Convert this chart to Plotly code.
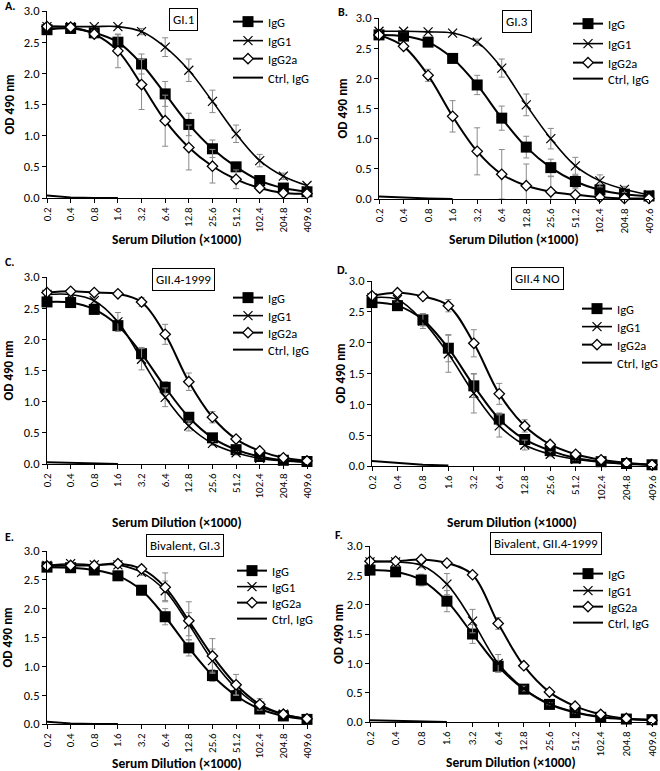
import plotly.graph_objects as go

dilutions = ["0.2", "0.4", "0.8", "1.6", "3.2", "6.4", "12.8", "25.6", "51.2", "102.4", "204.8", "409.6"]
series_names = ["IgG", "IgG1", "IgG2a", "Ctrl, IgG"]
panel_letters = ["A.", "B.", "C.", "D.", "E.", "F."]
panel_titles = ["GI.1", "GI.3", "GII.4-1999", "GII.4 NO", "Bivalent, GI.3", "Bivalent, GII.4-1999"]

# Panel A - GI.1
a_igg = [2.70, 2.72, 2.65, 2.50, 2.15, 1.67, 1.18, 0.79, 0.50, 0.28, 0.16, 0.10]
a_igg1 = [2.75, 2.75, 2.75, 2.75, 2.67, 2.42, 2.05, 1.55, 1.03, 0.60, 0.35, 0.20]
a_igg2a = [2.75, 2.74, 2.63, 2.36, 1.82, 1.24, 0.81, 0.51, 0.30, 0.16, 0.08, 0.07]
a_ctrl = [0.04, 0.01, 0.00, 0.00]
a_igg_err = [0.02, 0.02, 0.04, 0.12, 0.16, 0.20, 0.18, 0.14, 0.06, 0.04, 0.02, 0.02]
a_igg1_err = [0.01, 0.01, 0.01, 0.01, 0.05, 0.15, 0.18, 0.18, 0.14, 0.10, 0.05, 0.02]
a_igg2a_err = [0.02, 0.02, 0.06, 0.27, 0.40, 0.41, 0.36, 0.27, 0.15, 0.05, 0.02, 0.02]

# Panel B - GI.3
b_igg = [2.72, 2.70, 2.60, 2.33, 1.89, 1.34, 0.86, 0.52, 0.29, 0.15, 0.08, 0.05]
b_igg1 = [2.78, 2.78, 2.77, 2.75, 2.60, 2.17, 1.56, 1.00, 0.55, 0.30, 0.16, 0.07]
b_igg2a = [2.72, 2.53, 2.05, 1.37, 0.79, 0.41, 0.22, 0.12, 0.07, 0.03, 0.01, 0.01]
b_ctrl = [0.04, 0.02, 0.01, 0.00]
b_igg_err = [0.02, 0.02, 0.03, 0.07, 0.16, 0.20, 0.18, 0.14, 0.10, 0.05, 0.02, 0.02]
b_igg1_err = [0.01, 0.01, 0.01, 0.01, 0.05, 0.15, 0.18, 0.17, 0.14, 0.10, 0.05, 0.02]
b_igg2a_err = [0.02, 0.03, 0.10, 0.26, 0.39, 0.41, 0.36, 0.25, 0.10, 0.03, 0.01, 0.01]

# Panel C - GII.4-1999
c_igg = [2.60, 2.59, 2.48, 2.22, 1.77, 1.23, 0.75, 0.42, 0.23, 0.12, 0.06, 0.04]
c_igg1 = [2.72, 2.72, 2.62, 2.28, 1.68, 1.07, 0.61, 0.33, 0.18, 0.09, 0.05, 0.03]
c_igg2a = [2.75, 2.77, 2.75, 2.73, 2.60, 2.08, 1.32, 0.75, 0.40, 0.21, 0.10, 0.05]
c_ctrl = [0.03, 0.02, 0.01, 0.00]
c_igg_err = [0.02, 0.02, 0.03, 0.09, 0.10, 0.09, 0.06, 0.03, 0.02, 0.01, 0.01, 0.01]
c_igg1_err = [0.02, 0.02, 0.04, 0.15, 0.17, 0.15, 0.08, 0.03, 0.02, 0.01, 0.01, 0.01]
c_igg2a_err = [0.02, 0.02, 0.02, 0.02, 0.07, 0.16, 0.14, 0.09, 0.03, 0.02, 0.01, 0.01]

# Panel D - GII.4 NO
d_igg = [2.65, 2.60, 2.37, 1.91, 1.30, 0.76, 0.43, 0.25, 0.13, 0.07, 0.04, 0.02]
d_igg1 = [2.73, 2.70, 2.35, 1.82, 1.18, 0.65, 0.34, 0.19, 0.11, 0.06, 0.03, 0.02]
d_igg2a = [2.76, 2.81, 2.75, 2.60, 1.99, 1.17, 0.65, 0.35, 0.19, 0.10, 0.05, 0.02]
d_ctrl = [0.08, 0.05, 0.02, 0.01]
d_igg_err = [0.03, 0.03, 0.10, 0.22, 0.19, 0.10, 0.06, 0.03, 0.02, 0.01, 0.01, 0.01]
d_igg1_err = [0.03, 0.04, 0.12, 0.30, 0.32, 0.18, 0.08, 0.04, 0.02, 0.01, 0.01, 0.01]
d_igg2a_err = [0.03, 0.03, 0.03, 0.10, 0.22, 0.17, 0.10, 0.05, 0.02, 0.01, 0.01, 0.01]

# Panel E - Bivalent, GI.3
e_igg = [2.72, 2.71, 2.67, 2.57, 2.32, 1.86, 1.32, 0.84, 0.49, 0.26, 0.14, 0.08]
e_igg1 = [2.75, 2.78, 2.76, 2.76, 2.63, 2.31, 1.73, 1.10, 0.62, 0.31, 0.17, 0.09]
e_igg2a = [2.74, 2.75, 2.75, 2.78, 2.69, 2.37, 1.79, 1.18, 0.68, 0.34, 0.17, 0.09]
e_ctrl = [0.04, 0.01, 0.00, 0.00]
e_igg_err = [0.02, 0.02, 0.02, 0.03, 0.08, 0.14, 0.14, 0.10, 0.05, 0.03, 0.02, 0.01]
e_igg1_err = [0.02, 0.02, 0.02, 0.03, 0.05, 0.17, 0.20, 0.20, 0.12, 0.05, 0.02, 0.01]
e_igg2a_err = [0.02, 0.02, 0.02, 0.03, 0.06, 0.25, 0.33, 0.30, 0.18, 0.10, 0.04, 0.02]

# Panel F - Bivalent, GII.4-1999
f_igg = [2.59, 2.56, 2.42, 2.06, 1.50, 0.95, 0.56, 0.30, 0.16, 0.08, 0.05, 0.04]
f_igg1 = [2.73, 2.73, 2.67, 2.35, 1.72, 1.00, 0.57, 0.31, 0.17, 0.09, 0.05, 0.03]
f_igg2a = [2.74, 2.74, 2.77, 2.71, 2.51, 1.68, 0.96, 0.51, 0.27, 0.13, 0.06, 0.03]
f_ctrl = [0.03, 0.02, 0.01, 0.00]
f_igg_err = [0.03, 0.04, 0.10, 0.18, 0.16, 0.10, 0.04, 0.02, 0.02, 0.01, 0.01, 0.01]
f_igg1_err = [0.02, 0.02, 0.04, 0.18, 0.20, 0.15, 0.04, 0.02, 0.02, 0.01, 0.01, 0.01]
f_igg2a_err = [0.02, 0.02, 0.02, 0.02, 0.03, 0.10, 0.05, 0.02, 0.02, 0.01, 0.01, 0.01]

panels = [
    (a_igg, a_igg1, a_igg2a, a_ctrl, a_igg_err, a_igg1_err, a_igg2a_err),
    (b_igg, b_igg1, b_igg2a, b_ctrl, b_igg_err, b_igg1_err, b_igg2a_err),
    (c_igg, c_igg1, c_igg2a, c_ctrl, c_igg_err, c_igg1_err, c_igg2a_err),
    (d_igg, d_igg1, d_igg2a, d_ctrl, d_igg_err, d_igg1_err, d_igg2a_err),
    (e_igg, e_igg1, e_igg2a, e_ctrl, e_igg_err, e_igg1_err, e_igg2a_err),
    (f_igg, f_igg1, f_igg2a, f_ctrl, f_igg_err, f_igg1_err, f_igg2a_err),
]

W, H = 660, 771
# plot area in pixels: (left, right, top(3.0), bottom(0.0))
boxes = [
    (47, 307, 11, 198),
    (379, 649, 18, 199),
    (47, 307, 277, 464),
    (372, 652, 281, 466),
    (47, 307, 551, 724),
    (370, 652, 546, 722),
]
# legend: text start x, and row centre y for each entry
legend_text_x = [268, 608, 268, 617, 272, 608]
legend_rows = [
    [22, 41, 59, 78],
    [24, 44, 63, 79],
    [298, 316, 333, 350],
    [309, 327, 345, 363],
    [571, 587, 603, 619],
    [574, 591, 607, 623],
]
title_pos = [(183, 19), (517, 21), (183, 279), (537, 278), (185, 545), (546, 543)]
letter_pos = [(3, 6), (336, 12), (3, 262), (335, 270), (3, 537), (333, 535)]
xtitle_y = [239, 239, 522, 522, 763, 762]
ytitle_x = [9, 342, 8, 340, 7, 338]

FONT = "Carlito, Calibri, Lato, Arial, sans-serif"
fig = go.Figure()
xs = list(range(len(dilutions)))
err_style = dict(type="data", color="#8a8a8a", thickness=1, width=3, visible=True)

for i, p in enumerate(panels):
    igg, igg1, igg2a, ctrl, e0, e1, e2 = p
    ax = "" if i == 0 else str(i + 1)
    xa, ya = "x" + ax, "y" + ax
    lgs = []
    for k in range(4):
        n = i * 4 + k + 1
        lgs.append("legend" if n == 1 else "legend" + str(n))
    common = dict(xaxis=xa, yaxis=ya, mode="lines+markers", line_shape="spline",
                  cliponaxis=False)
    fig.add_trace(go.Scatter(x=xs, y=igg, name=series_names[0], legend=lgs[0],
                             error_y=dict(array=e0, **err_style),
                             line=dict(color="black", width=2),
                             marker=dict(symbol="square", size=11, color="black"), **common))
    fig.add_trace(go.Scatter(x=xs, y=igg1, name=series_names[1], legend=lgs[1],
                             error_y=dict(array=e1, **err_style),
                             line=dict(color="black", width=1.6),
                             marker=dict(symbol="x-thin", size=9, color="black",
                                         line=dict(color="black", width=1.2)), **common))
    fig.add_trace(go.Scatter(x=xs, y=igg2a, name=series_names[2], legend=lgs[2],
                             error_y=dict(array=e2, **err_style),
                             line=dict(color="black", width=2),
                             marker=dict(symbol="diamond", size=8, color="white",
                                         line=dict(color="black", width=1.3)), **common))
    fig.add_trace(go.Scatter(x=xs[:len(ctrl)], y=ctrl, name=series_names[3], legend=lgs[3],
                             xaxis=xa, yaxis=ya, mode="lines", cliponaxis=False,
                             line=dict(color="black", width=2)))

    l, r, t, b = boxes[i]
    upd = {
        ("xaxis" + ax): dict(domain=[l / W, r / W], anchor=ya, range=[0, 11],
                             tickvals=xs, ticktext=dilutions, tickangle=-90,
                             showline=True, linecolor="black", linewidth=1,
                             ticks="outside", ticklen=4, tickcolor="black",
                             showgrid=False, zeroline=False, automargin=False,
                             tickfont=dict(size=11, color="black", family=FONT)),
        ("yaxis" + ax): dict(domain=[1 - b / H, 1 - t / H], anchor=xa, range=[0, 3],
                             tickvals=[0, 0.5, 1, 1.5, 2, 2.5, 3],
                             ticktext=["0.0", "0.5", "1.0", "1.5", "2.0", "2.5", "3.0"],
                             showline=True, linecolor="black", linewidth=1,
                             ticks="outside", ticklen=4, tickcolor="black",
                             showgrid=False, zeroline=False, automargin=False,
                             tickfont=dict(size=12.5, color="black", family=FONT)),
    }
    for k in range(4):
        upd[lgs[k]] = dict(x=(legend_text_x[i] - 40) / W, y=1 - (legend_rows[i][k] - 15) / H,
                           xanchor="left", yanchor="top", bgcolor="rgba(0,0,0,0)",
                           font=dict(size=12.5, color="black", family=FONT),
                           itemwidth=30)
    fig.update_layout(**upd)
    # y-axis title
    fig.add_annotation(x=ytitle_x[i] / W, y=1 - (t + b) / 2 / H, xref="paper", yref="paper",
                       xanchor="center", yanchor="middle",
                       text="<b>OD 490 nm</b>", textangle=-90, showarrow=False,
                       font=dict(size=13, color="black", family=FONT))
    # x-axis title
    fig.add_annotation(x=(l + r) / 2 / W, y=1 - xtitle_y[i] / H, xref="paper", yref="paper",
                       xanchor="center", yanchor="middle",
                       text="<b>Serum Dilution (×1000)</b>", showarrow=False,
                       font=dict(size=13.5, color="black", family=FONT))
    # panel title box
    fig.add_annotation(x=title_pos[i][0] / W, y=1 - title_pos[i][1] / H, xref="paper", yref="paper",
                       xanchor="center", yanchor="middle",
                       text=panel_titles[i], showarrow=False, bordercolor="black", borderwidth=1,
                       borderpad=3, bgcolor="white",
                       font=dict(size=13, color="black", family=FONT))
    # panel letter
    fig.add_annotation(x=letter_pos[i][0] / W, y=1 - letter_pos[i][1] / H, xref="paper", yref="paper",
                       xanchor="left", yanchor="middle", text="<b>" + panel_letters[i] + "</b>",
                       showarrow=False, font=dict(size=12, color="black", family=FONT))

fig.update_layout(width=W, height=H, margin=dict(l=0, r=0, t=0, b=0, autoexpand=False),
                  paper_bgcolor="white", plot_bgcolor="white", showlegend=True)
fig.write_html("out.html", config={"displayModeBar": False},
               post_script="document.body.style.margin='0px';")
